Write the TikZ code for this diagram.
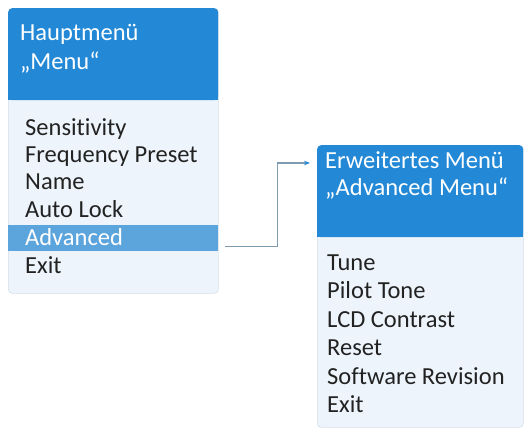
\documentclass[tikz,border=0pt]{standalone}
\usepackage{fontspec}
\setmainfont{Carlito}[Ligatures=NoCommon]
\usetikzlibrary{arrows.meta,calc}
\definecolor{hdrblue}{HTML}{2389D7}
\definecolor{bodyblue}{HTML}{EDF4FB}
\definecolor{selblue}{HTML}{5CA4DC}
\definecolor{edgegray}{HTML}{D5DEE6}
\definecolor{linkgray}{HTML}{7F9BB0}
\definecolor{itemgray}{HTML}{222222}
\begin{document}
\begin{tikzpicture}[x=1pt,y=-1pt,font=\fontsize{24.5}{28}\selectfont,
  menubox/.style={draw=edgegray,line width=0.6pt,fill=bodyblue,rounded corners=4pt,anchor=north west,inner sep=0pt},
  hdr/.style={fill=hdrblue,rounded corners=4pt,anchor=north west,inner sep=0pt},
  hilite/.style={fill=selblue,anchor=north west,inner sep=0pt,minimum height=26pt},
  title/.style={anchor=base west,inner sep=0pt,text=white},
  item/.style={anchor=base west,inner sep=0pt,text=itemgray},
  link/.style={draw=linkgray,line width=1.1pt,-{Stealth[length=6pt,width=4.5pt,color=hdrblue]}}]
  \useasboundingbox (0,0) rectangle (526,429);
  \node[menubox,minimum width=210pt,minimum height=285pt] (main) at (8,8){};
  \node[hdr,minimum width=210pt,minimum height=92pt] (mainhdr) at (8,8){};
  \fill[hdrblue] ([yshift=10pt]mainhdr.south west) rectangle (mainhdr.south east);
  \node[title] (t1) at (20,40){Hauptmenü};
  \node[title] (t2) at (20,69){„Menu“};
  \node[hilite,minimum width=210pt] (sel) at (8,225){};
  \node[item] (s1) at (25,135){Sensitivity};
  \node[item] (s2) at (25,162){Frequency Preset};
  \node[item] (s3) at (25,189){Name};
  \node[item] (s4) at (25,217){Auto Lock};
  \node[item,text=white] (s5) at (25,245){Advanced};
  \node[item] (s6) at (25,273){Exit};
  \node[menubox,minimum width=206pt,minimum height=282pt] (adv) at (317,145){};
  \node[hdr,minimum width=206pt,minimum height=92pt] (advhdr) at (317,145){};
  \fill[hdrblue] ([yshift=10pt]advhdr.south west) rectangle (advhdr.south east);
  \node[title] (e1) at (325,168){Erweitertes Menü};
  \node[title] (e2) at (325,195){„Advanced Menu“};
  \node[item] (a1) at (327,270){Tune};
  \node[item] (a2) at (327,298){Pilot Tone};
  \node[item] (a3) at (327,327){LCD Contrast};
  \node[item] (a4) at (327,355){Reset};
  \node[item] (a5) at (327,384){Software Revision};
  \node[item] (a6) at (327,412){Exit};
  \draw[link] ([shift={(7,8)}]sel.east) -- ++(52,0) |- ([shift={(-7,18)}]advhdr.north west);
\end{tikzpicture}
\end{document}
